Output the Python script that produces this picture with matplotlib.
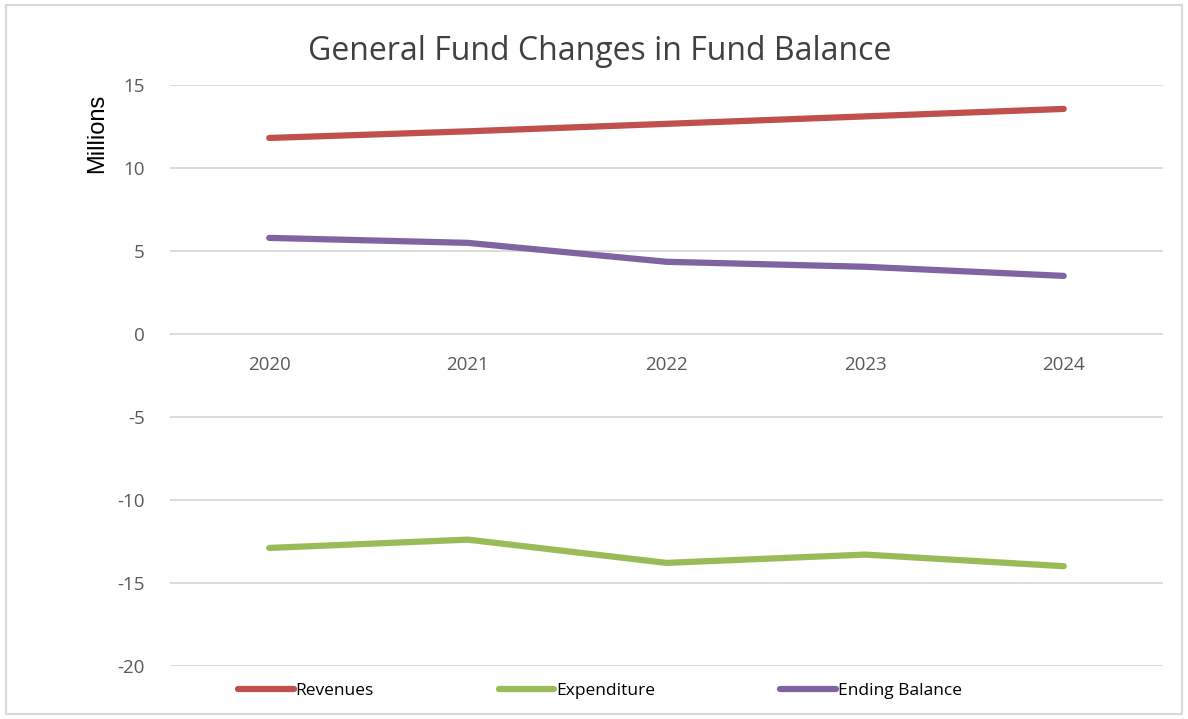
import matplotlib.pyplot as plt
from matplotlib.patches import Rectangle

years = ['2020', '2021', '2022', '2023', '2024']
revenues = [11.8, 12.2, 12.65, 13.1, 13.55]
expenditure = [-12.9, -12.4, -13.8, -13.3, -14.0]
ending_balance = [5.78, 5.48, 4.34, 4.04, 3.49]

plt.rcParams['font.family'] = ['Open Sans', 'DejaVu Sans']
plt.rcParams['axes.unicode_minus'] = False

fig = plt.figure(figsize=(11.88, 7.19), dpi=100)
ax = fig.add_axes([0.143, 0.074, 0.836, 0.808])

x = range(len(years))
ax.plot(x, revenues, color='#C0504D', lw=4.5, solid_capstyle='round', label='Revenues')
ax.plot(x, expenditure, color='#9BBB59', lw=4.5, solid_capstyle='round', label='Expenditure')
ax.plot(x, ending_balance, color='#8064A2', lw=4.5, solid_capstyle='round', label='Ending Balance')

ax.set_xlim(-0.5, 4.5)
ax.set_ylim(-20, 15)
ax.set_yticks(range(-20, 16, 5))
ax.yaxis.grid(True, color='#D9D9D9', lw=1.3)
ax.set_axisbelow(True)
for s in ax.spines.values():
    s.set_visible(False)
ax.tick_params(axis='y', length=0, pad=18, labelsize=13.5, labelcolor='#595959')
ax.set_xticks([])

# category labels sit just under the zero line
for i, yr in enumerate(years):
    ax.text(i, -1.85, yr, ha='center', va='center', fontsize=13.5, color='#595959')

fig.text(0.082, 0.814, 'Millions', rotation=90, ha='center', va='center', fontsize=17,
         color='black', family=['Liberation Sans', 'DejaVu Sans'])
fig.text(0.505, 0.928, 'General Fund Changes in Fund Balance', ha='center', va='center',
         fontsize=23, color='#404040')

fig.legend(loc='center', bbox_to_anchor=(0.505, 0.039), ncol=3, frameon=False,
           handlelength=3.2, handletextpad=0.1, columnspacing=7.2, fontsize=12.5)

# light frame around the chart area
fig.patches.append(Rectangle((0.005, 0.007), 0.99, 0.986, transform=fig.transFigure,
                             fill=False, edgecolor='#D9D9D9', lw=1.5))

fig.savefig('out.png', dpi=100)
